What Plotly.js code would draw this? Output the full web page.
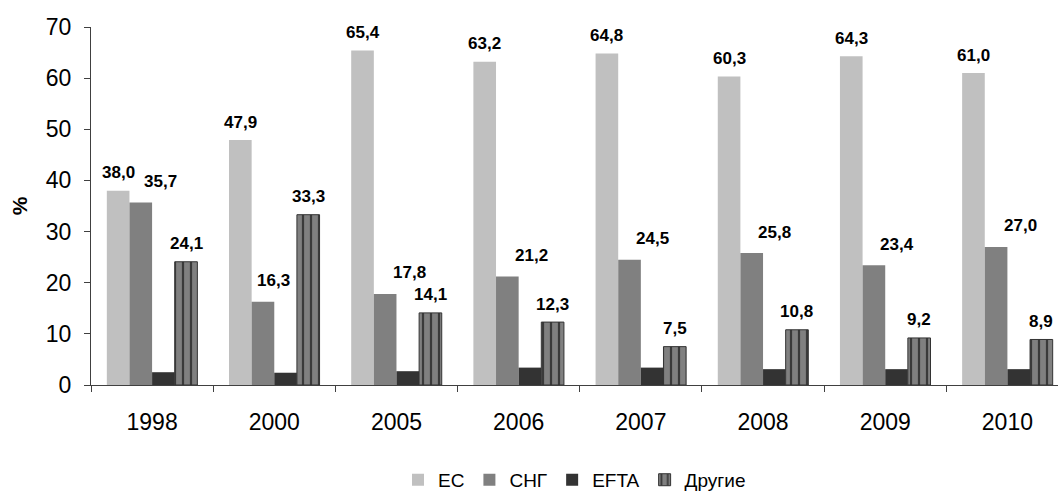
<!DOCTYPE html>
<html>
<head>
<meta charset="utf-8">
<script src="https://cdn.plot.ly/plotly-3.0.1.min.js"></script>
<style>
  html, body { margin: 0; padding: 0; background: #fff; }
  #chart { width: 1058px; height: 491px; }
</style>
</head>
<body>
<div id="chart"></div>
<script>
// ---- data ----
const years = ['1998', '2000', '2005', '2006', '2007', '2008', '2009', '2010'];
const seriesNames = ['ЕС', 'СНГ', 'EFTA', 'Другие'];
const euValues = [38.0, 47.9, 65.4, 63.2, 64.8, 60.3, 64.3, 61.0];
const cisValues = [35.7, 16.3, 17.8, 21.2, 24.5, 25.8, 23.4, 27.0];
const eftaValues = [2.5, 2.4, 2.7, 3.4, 3.4, 3.1, 3.1, 3.1];
const otherValues = [24.1, 33.3, 14.1, 12.3, 7.5, 10.8, 9.2, 8.9];
const yTickValues = [0, 10, 20, 30, 40, 50, 60, 70];

// ---- styling / layout ----
const FONT = 'Liberation Sans, Arial, sans-serif';
const BARGAP = 0.259;
const nSeries = 4;
const barW = (1 - BARGAP) / nSeries;
// extra horizontal nudge (px) for the СНГ labels, as in the original
const cisLabelNudge = [20, 11, 24, 24, 23, 23, 23, 24];

const fmt = v => v.toFixed(1).replace('.', ',');

const traces = [
  { name: seriesNames[0], x: years, y: euValues, type: 'bar',
    marker: { color: '#c0c0c0' } },
  { name: seriesNames[1], x: years, y: cisValues, type: 'bar',
    marker: { color: '#808080' } },
  { name: seriesNames[2], x: years, y: eftaValues, type: 'bar',
    marker: { color: '#333333' } },
  { name: seriesNames[3], x: years, y: otherValues, type: 'bar',
    marker: { color: '#808080',
      line: { color: '#333333', width: 1 },
      pattern: { shape: '|', bgcolor: '#808080', fgcolor: '#3a3a3a', size: 8, solidity: 0.28 } } }
].map(t => Object.assign(t, { hoverinfo: 'none' }));

const annotations = [];
function addLabels(values, k, yshift, nudge) {
  values.forEach((v, i) => {
    annotations.push({
      x: i + (k - (nSeries - 1) / 2) * barW,
      y: v, xref: 'x', yref: 'y',
      text: fmt(v), showarrow: false,
      xanchor: 'center', yanchor: 'middle',
      yshift: yshift, xshift: nudge ? nudge[i] : 0,
      font: { family: FONT, size: 17, color: '#000', weight: 'bold' }
    });
  });
}
addLabels(euValues, 0, 18, null);
addLabels(cisValues, 1, 21, cisLabelNudge);
addLabels(otherValues, 3, 18, null);

const layout = {
  width: 1058, height: 491,
  margin: { l: 91, r: 0, t: 27, b: 106, autoexpand: false },
  paper_bgcolor: '#fff', plot_bgcolor: '#fff',
  barmode: 'group', bargap: BARGAP, bargroupgap: 0,
  font: { family: FONT, color: '#000' },
  showlegend: true,
  legend: {
    orientation: 'h', x: 0.5, xanchor: 'center', y: -0.265, yanchor: 'middle',
    font: { family: FONT, size: 19, color: '#000' },
    itemclick: false, itemdoubleclick: false, traceorder: 'normal'
  },
  xaxis: {
    type: 'category', range: [-0.5, 7.414], automargin: false,
    showline: true, linecolor: '#404040', linewidth: 1,
    ticks: 'outside', tickson: 'boundaries', ticklen: 6, tickcolor: '#404040',
    tickfont: { family: FONT, size: 23, color: '#000' },
    ticklabelstandoff: 16,
    showgrid: false, zeroline: false, fixedrange: true
  },
  yaxis: {
    range: [0, 70], tickvals: yTickValues, ticktext: yTickValues.map(String),
    automargin: false,
    showline: true, linecolor: '#404040', linewidth: 1,
    ticks: 'outside', ticklen: 6, tickcolor: '#404040',
    tickfont: { family: FONT, size: 23, color: '#000' },
    ticklabelstandoff: 8,
    showgrid: false, zeroline: false, fixedrange: true,
    title: { text: '%', font: { family: FONT, size: 21, color: '#000', weight: 'bold' }, standoff: 12 }
  },
  annotations: annotations
};

Plotly.newPlot('chart', traces, layout, { displayModeBar: false, staticPlot: true });
</script>
</body>
</html>
